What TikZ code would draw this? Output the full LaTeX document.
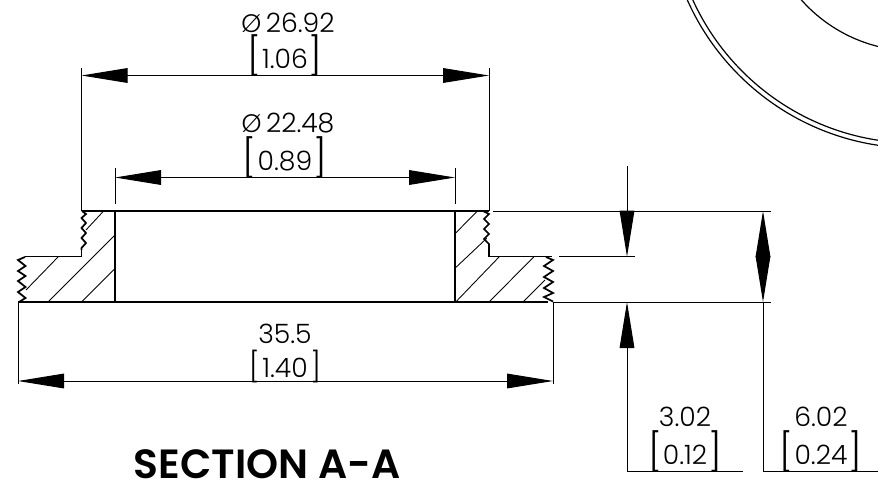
\documentclass[tikz,border=0pt]{standalone}
\usepackage{fontspec}
\usetikzlibrary{arrows.meta}
\setmainfont{Poppins Light}
\newfontfamily\titlefont{Poppins SemiBold}
\newcommand{\brk}[1]{\raisebox{-0.8pt}{\fontsize{28}{28}\selectfont[}\kern0.8pt#1\kern0.8pt\raisebox{-0.8pt}{\fontsize{28}{28}\selectfont]}}
\newcommand{\brksmall}[1]{\raisebox{-0.6pt}{\fontsize{22}{22}\selectfont[}\kern2pt#1\kern2pt\raisebox{-0.6pt}{\fontsize{22}{22}\selectfont]}}
\newcommand{\phisym}{{\fontsize{19}{19}\selectfont Ø}}
\tikzset{
  x=0.75pt,y=-0.75pt,
  thinline/.style={line width=0.75pt,black},
  edge/.style={line width=1.1pt,black},
  threadline/.style={line width=1.3pt,black,line join=miter},
  hatchline/.style={line width=0.65pt,black},
  arcline/.style={line width=0.9pt,black},
  dimtip/.style={-{Triangle[length=34.5pt,width=11pt,inset=0pt]}},
  dimtips/.style={{Triangle[length=34.5pt,width=11pt,inset=0pt]}-{Triangle[length=34.5pt,width=11pt,inset=0pt]}},
  dimtext/.style={inner sep=0pt,font=\fontsize{20}{22}\selectfont,text=black},
  title/.style={inner sep=0pt,font=\titlefont\fontsize{30.6}{32}\selectfont},
}
\begin{document}
\begin{tikzpicture}
\useasboundingbox (0,0) rectangle (878,483);
% circle arcs, clipped to the page
\begin{scope}
  \clip (640,0) rectangle (878,160);
  \draw[arcline] (915,-101) circle [radius=244];
  \draw[arcline] (915,-101) circle [radius=249];
  \draw[arcline] (915,-101) circle [radius=152];
\end{scope}
% named points
\coordinate (tl) at (81.5,211); \coordinate (tr) at (489,211);
\coordinate (il) at (115,211); \coordinate (ir) at (455,211);
\coordinate (ibl) at (115,302); \coordinate (ibr) at (455,302);
\coordinate (bl) at (18,302); \coordinate (br) at (553,302);
\coordinate (e1l) at (81.5,68); \coordinate (e1r) at (489,68);
\coordinate (d1l) at (81.5,75.5); \coordinate (d1r) at (489,75.5);
\coordinate (e2l) at (115,168); \coordinate (e2r) at (455,168);
\coordinate (e2lb) at (115,204); \coordinate (e2rb) at (455,204);
\coordinate (d2l) at (115,177.5); \coordinate (d2r) at (455,177.5);
\coordinate (e3l) at (18,384); \coordinate (e3r) at (553,384);
\coordinate (d3l) at (18,381); \coordinate (d3r) at (553,381);
\coordinate (topx) at (493,211); \coordinate (topend) at (771,211);
\coordinate (midx) at (559,256.7); \coordinate (midend) at (635,256.7);
\coordinate (botend) at (771,302);
\coordinate (v1top) at (627,166); \coordinate (v1tip) at (627,256.7);
\coordinate (v2tip) at (627,302); \coordinate (v2corner) at (627,471.5);
\coordinate (v2end) at (743,471.5);
\coordinate (v3a) at (763,211); \coordinate (v3b) at (763,302);
\coordinate (v3corner) at (763,471.5); \coordinate (v3end) at (878,471.5);
% part outline
\draw[edge] (tl) -- (tr);
\draw[edge] (il) -- (ibl);
\draw[edge] (ir) -- (ibr);
\draw[edge] (bl) -- (548,302);
\draw[edge] (81.5,250) -- (81.5,256.7) -- (25,256.7);
\draw[edge] (489,247) -- (489,256.7) -- (552,256.7);
% threads
\draw[threadline] (82,211) -- (86,214) -- (81.5,218) -- (86,223) -- (81.5,228) -- (86,233) -- (81.5,238) -- (86,243) -- (81.5,248) -- (81.5,250);
\draw[threadline] (25,257) -- (18,260) -- (25.5,266) -- (18,271) -- (25.5,276) -- (18,281) -- (25.5,287) -- (18,292) -- (25.5,298) -- (19,302);
\draw[threadline] (483,211) -- (489,214) -- (484,219) -- (489,224) -- (484,229) -- (489,234) -- (484,239) -- (489,244) -- (489,247);
\draw[threadline] (546,257) -- (553,260) -- (544,266) -- (553,271) -- (544,277) -- (553,282) -- (544,288) -- (553,293) -- (544,297) -- (553,301.5);
% hatching
\draw[hatchline] (103,211.7) -- (86,230);
\draw[hatchline] (114.3,235.7) -- (48.3,301.7);
\draw[hatchline] (114.3,269.3) -- (81.7,301.7);
\draw[hatchline] (58.3,256.7) -- (26,290);
\draw[hatchline] (476.7,211.7) -- (456,232.7);
\draw[hatchline] (486.7,238.3) -- (456,267.3);
\draw[hatchline] (499.3,256.7) -- (456,301.7);
\draw[hatchline] (534,256.7) -- (489.3,301.7);
\draw[hatchline] (545,280) -- (523.3,301.7);
% extension lines
\draw[thinline] (e1l) -- (tl);
\draw[thinline] (e1r) -- (tr);
\draw[thinline] (e2l) -- (e2lb);
\draw[thinline] (e2r) -- (e2rb);
\draw[thinline] (bl) -- (e3l);
\draw[thinline] (br) -- (e3r);
\draw[thinline] (topx) -- (topend);
\draw[thinline] (midx) -- (midend);
\draw[thinline] (br) -- (botend);
% dimension lines
\draw[thinline,dimtips] (d1l) -- (d1r);
\draw[thinline,dimtips] (d2l) -- (d2r);
\draw[thinline,dimtips] (d3l) -- (d3r);
\draw[thinline,dimtip] (v1top) -- (v1tip);
\draw[thinline,dimtip] (v2corner) -- (v2tip);
\draw[thinline] (v2corner) -- (v2end);
\draw[thinline,dimtips] (v3a) -- (v3b);
\draw[thinline] (v3b) -- (v3corner) -- (v3end);
% labels
\node[dimtext] (l1a) at (288,23) {\phisym\,26.92};
\node[dimtext] (l1b) at (285,56) {\brk{1.06}};
\node[dimtext] (l2a) at (288,123) {\phisym\,22.48};
\node[dimtext] (l2b) at (285,158) {\brk{0.89}};
\node[dimtext] (l3a) at (285,334) {35.5};
\node[dimtext] (l3b) at (285,367) {\brksmall{1.40}};
\node[dimtext] (l4a) at (685,417) {3.02};
\node[dimtext] (l4b) at (685,452) {\brk{0.12}};
\node[dimtext] (l5a) at (821,417) {6.02};
\node[dimtext] (l5b) at (821,452) {\brk{0.24}};
\node[title] (sec) at (267,464.5) {SECTION A-A};
\end{tikzpicture}
\end{document}
